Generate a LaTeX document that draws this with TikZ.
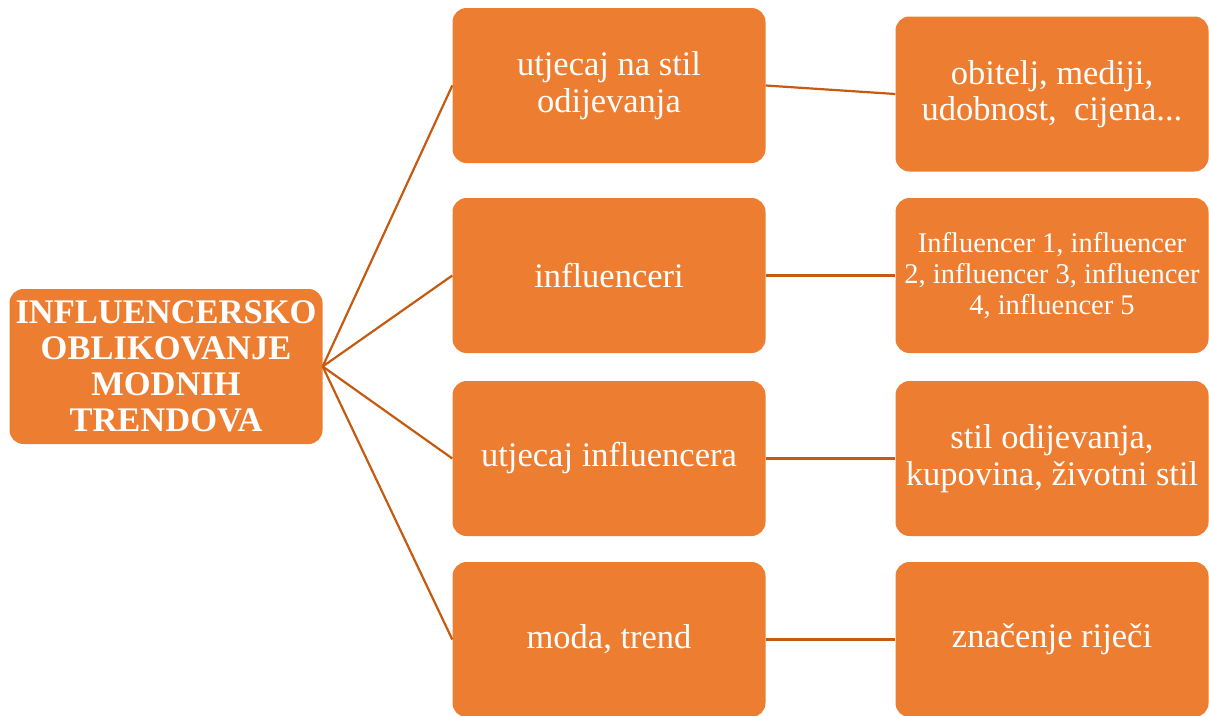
\documentclass[tikz,border=0pt]{standalone}
\usepackage{fontspec}
\setmainfont{Liberation Serif}
\definecolor{boxorange}{RGB}{237,125,49}
\definecolor{lineorange}{RGB}{197,90,17}
\begin{document}
\begin{tikzpicture}[x=1pt,y=-1pt,
  box/.style={fill=boxorange,rounded corners=14pt,minimum width=313pt,minimum height=155pt,
    inner sep=0pt,text=white,align=center,font=\fontsize{34.5}{36.5}\selectfont},
  conn/.style={draw=lineorange,line width=2.2pt}]
\useasboundingbox (0,0) rectangle (1209,715);
\node[box,font=\bfseries\fontsize{34.5}{36}\selectfont] (root) at (166,366.5) {INFLUENCERSKO\\OBLIKOVANJE\\MODNIH\\TRENDOVA};
\node[box] (m1) at (609,85.5) {utjecaj na stil\\odijevanja};
\node[box] (m2) at (609,275.5) {influenceri};
\node[box] (m3) at (609,458.5) {utjecaj influencera};
\node[box] (m4) at (609,639.5) {moda, trend};
\node[box] (r1) at (1052,94) {obitelj, mediji,\\udobnost, \ cijena...};
\node[box,font=\fontsize{28.5}{31}\selectfont] (r2) at (1052,275.5) {Influencer 1, influencer\\2, influencer 3, influencer\\4, influencer 5};
\node[box] (r3) at (1052,458.5) {stil odijevanja,\\kupovina, životni stil};
\node[box] (r4) at (1052,639.5) {značenje riječi};
\coordinate (hub) at (root.east);
\foreach \m in {m1,m2,m3,m4} \draw[conn] (hub) -- (\m.west);
\draw[conn] (m1.east) -- (r1.west);
\draw[conn] (m2.east) -- (r2.west);
\draw[conn] (m3.east) -- (r3.west);
\draw[conn] (m4.east) -- (r4.west);
\end{tikzpicture}
\end{document}
